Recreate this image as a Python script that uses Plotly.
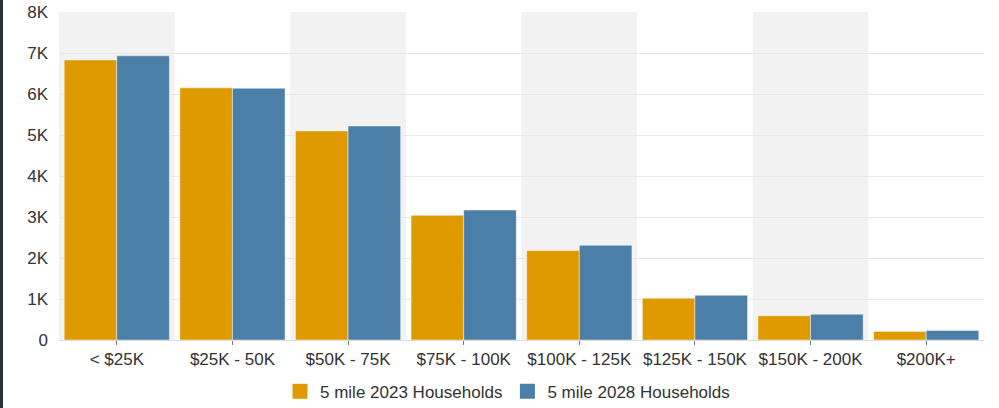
import plotly.graph_objects as go

categories = ["< $25K", "$25K - 50K", "$50K - 75K", "$75K - 100K",
              "$100K - 125K", "$125K - 150K", "$150K - 200K", "$200K+"]
hh_2023 = [6830, 6150, 5100, 3040, 2180, 1020, 590, 210]
hh_2028 = [6930, 6140, 5220, 3170, 2310, 1090, 630, 230]
series_names = ["5 mile 2023 Households", "5 mile 2028 Households"]
y_tickvals = [0, 1000, 2000, 3000, 4000, 5000, 6000, 7000, 8000]
y_ticktext = ["0", "1K", "2K", "3K", "4K", "5K", "6K", "7K", "8K"]

ORANGE = "#DF9A00"
BLUE = "#4C7FA7"
TXT = "#333333"
FS = 17

fig = go.Figure()
for vals, name, col in [(hh_2023, series_names[0], ORANGE), (hh_2028, series_names[1], BLUE)]:
    fig.add_trace(go.Bar(x=categories, y=vals, name=name, showlegend=False, legendgroup=name,
                         marker=dict(color=col, line=dict(color="rgba(255,255,255,0.45)", width=1))))
# legend entries with larger square swatches
for name, col in [(series_names[0], ORANGE), (series_names[1], BLUE)]:
    fig.add_trace(go.Scatter(x=[None], y=[None], mode="markers", name=name, legendgroup=name,
                             marker=dict(symbol="square", size=15, color=col, line=dict(width=0))))

shapes = []
for i in range(0, len(categories), 2):
    shapes.append(dict(type="rect", xref="x", yref="paper", x0=i - 0.5, x1=i + 0.5,
                       y0=0, y1=1, fillcolor="#f2f2f2", line=dict(width=0), layer="below"))
# dark strip at the left edge of the window
shapes.append(dict(type="rect", xref="paper", yref="paper", x0=-59/925, x1=-56/925,
                   y0=-68/328, y1=1 + 12/328, fillcolor="#2b2f36", line=dict(width=0), layer="above"))

fig.update_layout(
    width=999, height=408,
    margin=dict(l=59, r=15, t=12, b=68, autoexpand=False),
    paper_bgcolor="white", plot_bgcolor="white",
    barmode="group", bargap=0.09, bargroupgap=0,
    font=dict(family="Liberation Sans, Arial, sans-serif", size=FS, color=TXT),
    shapes=shapes,
    showlegend=True,
    legend=dict(orientation="h", xref="container", yref="container",
                x=0.508, xanchor="center", y=0.04, yanchor="middle",
                font=dict(size=FS, color=TXT), itemwidth=30, traceorder="normal"),
)
fig.update_xaxes(showgrid=False, showline=True, linecolor="#dddddd", linewidth=1,
                 ticks="outside", ticklen=4, tickcolor="#777777", tickwidth=1,
                 tickfont=dict(size=FS, color=TXT), range=[-0.5, 7.5], automargin=False)
fig.update_yaxes(range=[0, 8000], tickvals=y_tickvals, ticktext=y_ticktext,
                 showgrid=True, gridcolor="#e8e8e8", gridwidth=1, zeroline=False,
                 ticks="", ticklabelstandoff=10, automargin=False,
                 tickfont=dict(size=FS, color=TXT))

fig.write_html("out.html")
